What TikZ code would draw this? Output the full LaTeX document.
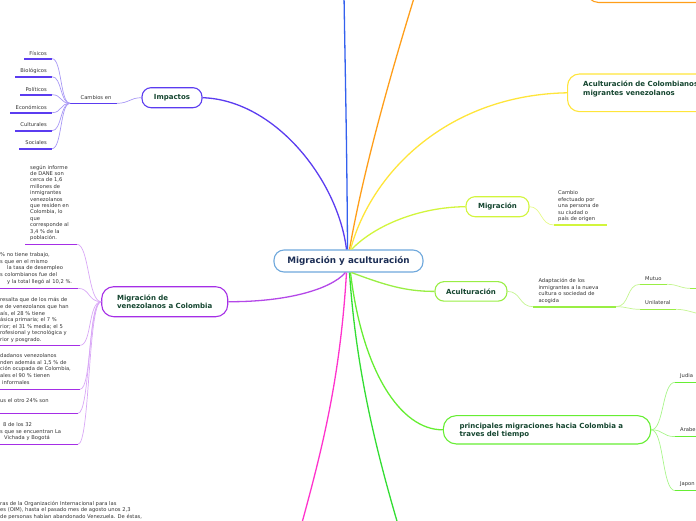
\documentclass[tikz,border=0pt]{standalone}
\usepackage{fontspec}
\setmainfont{DejaVu Sans}
\usetikzlibrary{calc}
\definecolor{cenC}{HTML}{6FA8DC}
\definecolor{cenT}{HTML}{1C2E55}
\definecolor{topicC}{HTML}{14452F}
\definecolor{noteC}{HTML}{333333}
\definecolor{impC}{HTML}{5B3CF0}
\definecolor{impL}{HTML}{A898F5}
\definecolor{venC}{HTML}{A52EE6}
\definecolor{venB}{HTML}{B448E8}
\definecolor{venL}{HTML}{D9A8F6}
\definecolor{magC}{HTML}{FF33CC}
\definecolor{bluC}{HTML}{3360EE}
\definecolor{oraC}{HTML}{FF9E1A}
\definecolor{yelC}{HTML}{FFE53A}
\definecolor{chaC}{HTML}{D2F53C}
\definecolor{chaL}{HTML}{E6FA8A}
\definecolor{acuC}{HTML}{99EE44}
\definecolor{acuL}{HTML}{C4F590}
\definecolor{priC}{HTML}{66EE33}
\definecolor{priL}{HTML}{A8F58A}
\definecolor{grnC}{HTML}{33DD33}
\begin{document}
\begin{tikzpicture}[x=1pt,y=-1pt,
  topic/.style={draw, line width=1.1pt, rounded corners=9pt, fill=white, inner sep=0pt, font=\bfseries\fontsize{7}{8.8}\selectfont, text=topicC, align=left},
  topictext/.style={inner sep=0pt, font=\bfseries\fontsize{7}{8.6}\selectfont, text=topicC, align=left, anchor=west},
  note/.style={inner sep=0pt, font=\fontsize{5.2}{6.6}\selectfont, text=noteC, align=left, anchor=north west},
  uline/.style={line width=1.6pt},
  branch/.style={line width=1.3pt},
  twig/.style={line width=0.7pt},
]
\useasboundingbox (0,0) rectangle (696,520);
\clip (0,0) rectangle (696,520);

% central node
\node[topic, draw=cenC, text=cenT, font=\bfseries\fontsize{8.8}{10}\selectfont, minimum width=149pt, minimum height=22pt, rounded corners=10pt] (c) at (348.5,261) {Migración y aculturación};

% ---------- Impactos ----------
\node[topic, draw=impC, minimum width=60pt, minimum height=20pt] (imp) at (172,97.7) {Impactos};
\draw[branch, impC] (imp.east) .. controls (275,100) and (338,180) .. ([xshift=-2pt]c.north);
\node[note, anchor=center] (ce) at (96,97.7) {Cambios en};
\coordinate (ceL) at (70,103.3);
\coordinate (ceR) at (117,103.3);
\draw[uline, impC] (ceL) -- (ceR);
\draw[twig, impL] (ceR) .. controls (129,103.3) and (130,97.7) .. (imp.west);
\foreach \n/\t/\y/\xs in {fis/Físicos/53/24, bio/Biológicos/71/15, pol/Políticos/89/20, eco/Económicos/107/10, cul/Culturales/125/15, soc/Sociales/143/19}{
  \node[note, anchor=east] (\n) at (47,\y) {\t};
  \coordinate (\n L) at (\xs,\y+5.7);
  \coordinate (\n R) at (52,\y+5.7);
  \draw[uline, impC] (\n L) -- (\n R);
  \draw[twig, impL] (ceL) .. controls (60,103.3) and (62,\y+5.7) .. (\n R);
}

% ---------- Migracion de venezolanos ----------
\node[topic, draw=venC, minimum width=126pt, minimum height=30pt, rounded corners=12pt] (mv) at (164.7,301.7) {Migración de\\venezolanos a Colombia};
\draw[branch, venB] (mv.east) .. controls (285,302) and (330,290) .. ([xshift=-3pt]c.south);

\node[note, font=\fontsize{5.2}{6.4}\selectfont] (v1) at (30,164.8) {según informe\\de DANE son\\cerca de 1,6\\millones de\\inmigrantes\\venezolanos\\que residen en\\Colombia, lo\\que\\corresponde al\\3,4 \% de la\\población.};
\node[note] (v2) at (0,252.6) {\% no tiene trabajo,\\s que en el mismo\\\hspace*{7pt}la tasa de desempleo\\s colombianos fue del\\\hspace*{7pt}y la total llegó al 10,2 \%.};
\node[note] (v3) at (0,297.6) {resalta que de los más de\\e de venezolanos que han\\aís, el 28 \% tiene\\ásica primaria; el 7 \%\\rior; el 31 \% media; el 5\\rofesional y tecnológica y\\rior y posgrado.};
\node[note] (v4) at (0,353.6) {dadanos venezolanos\\nden además al 1,5 \% de\\ción ocupada de Colombia,\\ales el 90 \% tienen\\\hspace*{2pt}informales};
\node[note] (v5) at (0,398.6) {us el otro 24\% son};
\node[note] (v6) at (0,422.6) {\hspace*{3pt}8 de los 32\\s que se encuentran La\\\hspace*{4pt}Vichada y Bogotá};
\foreach \n/\xl/\xr/\y in {v1/25/77/244.3, v2/-5/78/288.3, v3/-5/80/345.3, v4/-5/80/389.3, v5/-5/78/413.3, v6/-5/78/444.3}{
  \coordinate (\n L) at (\xl,\y);
  \coordinate (\n R) at (\xr,\y);
  \draw[uline, venC] (\n L) -- (\n R);
  \draw[twig, venL] (mv.west) .. controls (88,301.7) and (\xr+12,\y) .. (\n R);
}

% ---------- bottom ----------
\node[note] (bt) at (0,500.9) {ras de la Organización Internacional para las\\es (OIM), hasta el pasado mes de agosto unos 2,3\\de personas habían abandonado Venezuela. De éstas,};
\coordinate (magE) at (300,530);
\draw[branch, magC] ([xshift=-2pt]c.south) .. controls (340,380) and (322,450) .. (magE);
\coordinate (grnE) at (399,528);
\draw[branch, grnC] ([xshift=1pt]c.south) .. controls (356,370) and (376,450) .. (grnE);

% ---------- top ----------
\coordinate (bluE) at (344,-5);
\draw[branch, bluC] ([xshift=-1pt]c.north) .. controls (347,150) and (345,60) .. (bluE);
\node[draw=oraC, line width=1.1pt, rounded corners=12pt, minimum width=160pt, minimum height=40pt, anchor=south west, inner sep=0pt] (orb) at (586,3) {};
\coordinate (oraE) at (418,-15);
\draw[branch, oraC] ([xshift=1pt]c.north) .. controls (365,160) and (398,50) .. (oraE);

% ---------- yellow ----------
\node[topic, draw=yelC, minimum width=170pt, minimum height=37.7pt, rounded corners=12pt, anchor=west] (ye) at (567,92.8) {};
\node[topictext] (yet) at (583,89) {Aculturación de Colombianos\\migrantes venezolanos};
\draw[branch, yelC] ([xshift=2pt]c.north) .. controls (372,170) and (450,95) .. (ye.west);

% ---------- Migracion ----------
\node[topic, draw=chaC, minimum width=63pt, minimum height=20pt] (mg) at (497.5,206.7) {Migración};
\draw[branch, chaC] ([xshift=3pt]c.north) .. controls (375,225) and (420,207) .. (mg.west);
\node[note] (mgn) at (558,190.3) {Cambio\\efectuado por\\una persona de\\su ciudad o\\país de origen};
\coordinate (mgL) at (554,225);
\coordinate (mgR) at (607,225);
\draw[uline, chaC] (mgL) -- (mgR);
\draw[twig, chaL] (mg.east) .. controls (542,206.7) and (540,225) .. (mgL);

% ---------- Aculturacion ----------
\node[topic, draw=acuC, minimum width=72pt, minimum height=19.5pt] (ac) at (471,291.4) {Aculturación};
\draw[branch, acuC] ([xshift=3pt]c.south) .. controls (385,285) and (405,291.4) .. (ac.west);
\node[note] (acn) at (538.3,278.2) {Adaptación de los\\inmigrantes a la nueva\\cultura o sociedad de\\acogida};
\coordinate (acL) at (533,306.7);
\coordinate (acR) at (616,306.7);
\draw[uline, acuC] (acL) -- (acR);
\draw[twig, acuL] (ac.east) .. controls (521,291.4) and (519,306.7) .. (acL);
\node[note, anchor=west] (mu) at (645,279) {Mutuo};
\coordinate (muL) at (640,284.3);
\coordinate (muR) at (667,284.3);
\draw[uline, acuC] (muL) -- (muR);
\draw[twig, acuL] (acR) .. controls (630,306.7) and (626,284.3) .. (muL);
\node[note, anchor=west] (un) at (645,302.7) {Unilateral};
\coordinate (unL) at (640,309.3);
\coordinate (unR) at (676,309.3);
\draw[uline, acuC] (unL) -- (unR);
\draw[twig, acuL] (acR) .. controls (628,306.7) and (628,309.3) .. (unL);
\coordinate (mxL) at (690,288.3);
\coordinate (mxR) at (720,288.3);
\draw[uline, acuC] (mxL) -- (mxR);
\draw[twig, acuL] (muR) .. controls (678,284.3) and (680,288.3) .. (mxL);
\coordinate (uxE) at (712,316);
\draw[twig, acuL] (unR) .. controls (688,309.3) and (694,314) .. (uxE);

% ---------- principales ----------
\node[topic, draw=priC, minimum width=207.4pt, minimum height=28.3pt, rounded corners=13pt] (pr) at (547,429.8) {};
\node[topictext] (prt) at (459.3,430.5) {principales migraciones hacia Colombia a\\traves del tiempo};
\draw[branch, priC] ([xshift=2pt]c.south) .. controls (362,370) and (400,430) .. (pr.west);
\foreach \n/\t/\y in {ju/Judia/375.7, ar/Arabe/430, ja/Japon/484}{
  \node[note, anchor=west] (\n) at (680,\y) {\t};
  \coordinate (\n L) at (675,\y+6.6);
  \coordinate (\n R) at (710,\y+6.6);
  \draw[uline, priC] (\n L) -- (\n R);
  \draw[twig, priL] (pr.east) .. controls (664,429.8) and (662,\y+6.6) .. (\n L);
}
\end{tikzpicture}
\end{document}
